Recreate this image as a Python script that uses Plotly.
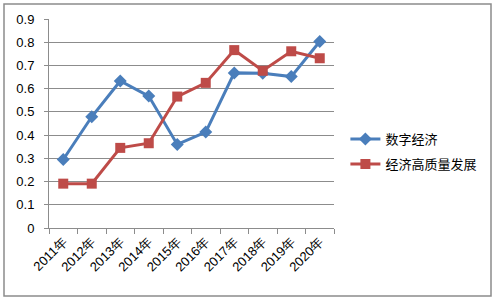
import plotly.graph_objects as go

years = ["2011年", "2012年", "2013年", "2014年", "2015年", "2016年", "2017年", "2018年", "2019年", "2020年"]
digital_economy = [0.295, 0.479, 0.633, 0.568, 0.360, 0.413, 0.668, 0.666, 0.652, 0.803]
high_quality = [0.191, 0.191, 0.345, 0.365, 0.566, 0.625, 0.766, 0.677, 0.761, 0.731]
y_ticks = [0, 0.1, 0.2, 0.3, 0.4, 0.5, 0.6, 0.7, 0.8, 0.9]

blue = "#4A7EBB"
red = "#BE4B48"
grid = "#8C8C8C"

fig = go.Figure()
fig.add_trace(go.Scatter(
    x=years, y=digital_economy, name="数字经济", mode="lines+markers",
    line=dict(color=blue, width=3),
    marker=dict(symbol="diamond", size=10, color=blue),
    legend="legend",
))
fig.add_trace(go.Scatter(
    x=years, y=high_quality, name="经济高质量发展", mode="lines+markers",
    line=dict(color=red, width=3),
    marker=dict(symbol="square", size=10, color=red),
    legend="legend2",
))

legend_font = dict(family="Noto Sans CJK SC", size=13, color="#000000")
fig.update_layout(
    width=496, height=300,
    margin=dict(l=49, r=162, t=19, b=72),
    paper_bgcolor="white", plot_bgcolor="white",
    font=dict(family="Liberation Sans", size=13, color="#000000"),
    showlegend=True,
    legend=dict(x=1.04, y=(300 - 72 - 139) / 209, xanchor="left", yanchor="middle",
                font=legend_font, bgcolor="rgba(0,0,0,0)", itemwidth=30),
    legend2=dict(x=1.04, y=(300 - 72 - 164) / 209, xanchor="left", yanchor="middle",
                 font=legend_font, bgcolor="rgba(0,0,0,0)", itemwidth=30),
    shapes=[dict(type="rect", xref="paper", yref="paper",
                 x0=(4 - 49) / 285, x1=(491 - 49) / 285,
                 y0=(300 - 72 - 296) / 209, y1=(300 - 72 - 4) / 209,
                 line=dict(color="#8C8C8C", width=1.5), layer="below")],
)
fig.update_xaxes(
    type="category", range=[-0.5, 9.5], tickangle=-45,
    showline=True, linecolor=grid, linewidth=1,
    ticks="outside", tickson="boundaries", ticklen=5, tickcolor=grid,
    showgrid=False, tickfont=dict(family="Liberation Sans", size=13),
)
fig.update_yaxes(
    range=[0, 0.9], tickvals=y_ticks, ticktext=[f"{v:g}" for v in y_ticks],
    showline=True, linecolor=grid, linewidth=1,
    ticks="outside", ticklen=4, tickcolor=grid, ticklabelstandoff=7,
    showgrid=True, gridcolor=grid, gridwidth=1, zeroline=False,
    tickfont=dict(family="Liberation Sans", size=13),
)

fig.write_html("out.html", config={"displayModeBar": False},
               post_script="document.body.style.margin='0';")
